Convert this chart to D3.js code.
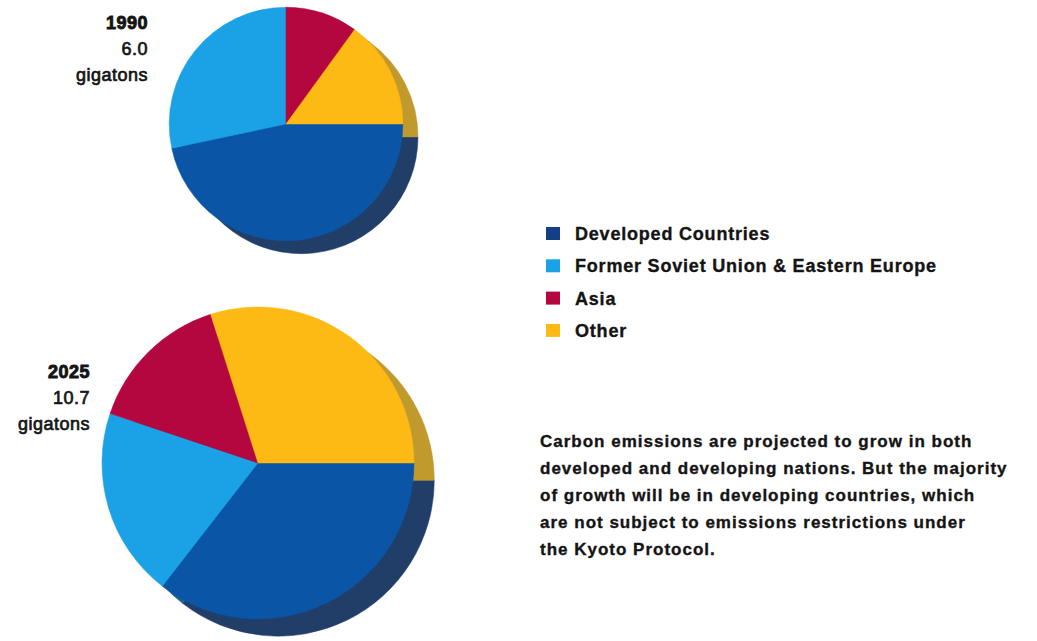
<!DOCTYPE html>
<html>
<head>
<meta charset="utf-8">
<script src="https://cdn.jsdelivr.net/npm/d3@7"></script>
<style>
  body { margin: 0; background: #fff; }
  svg { display: block; }
  text { font-family: "Liberation Sans", Arial, sans-serif; fill: #141414; stroke: #141414; }
</style>
</head>
<body>
<svg id="chart" width="1037" height="641"></svg>
<script>
// categories in drawing order, clockwise from 3 o'clock
const categories = ["Developed Countries", "Former Soviet Union & Eastern Europe", "Asia", "Other"];
const sliceColors = ["#0b55a6", "#1ba1e6", "#b5073f", "#fdb914"];
const shadowColors = ["#213e68", "#17638f", "#6e0a2b", "#c19a2e"];

const years = ["1990", "2025"];
const totals = [6.0, 10.7];
const totalLabels = ["6.0", "10.7"];
const values1990 = [2.8, 1.7, 0.6, 0.9];   // gigatons
const values2025 = [3.8, 2.1, 1.6, 3.2];

const paragraph = [
    "Carbon emissions are projected to grow in both",
    "developed and developing nations. But the majority",
    "of growth will be in developing countries, which",
    "are not subject to emissions restrictions under",
    "the Kyoto Protocol."
];

const svg = d3.select("#chart");

//layout of the two pies
const pies = [
    {year: years[0], total: totals[0], label: totalLabels[0], values: values1990, cx: 286, labelX: 148, labelY: 29},
    {year: years[1], total: totals[1], label: totalLabels[1], values: values2025, cx: 258, labelX: 90, labelY: 378}
];

const yPos = d3.scalePoint().domain(years).range([124, 463]);
const radius = d3.scaleSqrt().domain([0, d3.max(totals)]).range([0, 156]);

const pie = d3.pie()
    .sort(null)
    .startAngle(Math.PI / 2)
    .endAngle(Math.PI / 2 + 2 * Math.PI);

pies.forEach(p => {
    const r = radius(p.total);
    const cy = yPos(p.year);
    const arcs = pie(p.values);
    const arc = d3.arc().innerRadius(0).outerRadius(r);

    const g = svg.append("g").attr("transform", "translate(" + p.cx + "," + cy + ")");

    //3D side, drawn as an offset copy behind the pie
    g.append("g")
        .attr("transform", "translate(" + (r * 0.13) + "," + (r * 0.11) + ")")
        .selectAll("path")
        .data(arcs)
        .join("path")
        .attr("d", arc)
        .attr("fill", (d, i) => shadowColors[i])
        .attr("stroke", (d, i) => shadowColors[i])
        .attr("stroke-width", 0.5);

    //the pie itself
    g.append("g")
        .selectAll("path")
        .data(arcs)
        .join("path")
        .attr("d", arc)
        .attr("fill", (d, i) => sliceColors[i])
        .attr("stroke", (d, i) => sliceColors[i])
        .attr("stroke-width", 0.5);

    //year / total labels
    const lab = svg.append("g").attr("text-anchor", "end").style("font-size", "18px")
        .style("letter-spacing", "0.5px");
    lab.append("text").attr("x", p.labelX).attr("y", p.labelY)
        .style("font-weight", "700").style("stroke-width", 0.9).text(p.year);
    lab.append("text").attr("x", p.labelX).attr("y", p.labelY + 26)
        .style("stroke-width", 0.7).text(p.label);
    lab.append("text").attr("x", p.labelX).attr("y", p.labelY + 52)
        .style("stroke-width", 0.7).text("gigatons");
});

//Legend
const legend = svg.append("g")
    .selectAll("g")
    .data(categories)
    .join("g")
    .attr("transform", (d, i) => "translate(546," + (227 + i * 32.3) + ")");

legend.append("rect")
    .attr("width", 14)
    .attr("height", 13)
    .attr("fill", (d, i) => i === 0 ? "#123f86" : sliceColors[i]);

legend.append("text")
    .attr("x", 29)
    .attr("y", 13)
    .style("font-size", "18px")
    .style("font-weight", "700")
    .style("stroke-width", 0.35)
    .style("letter-spacing", "0.8px")
    .text(d => d);

//Note text
svg.append("g")
    .selectAll("text")
    .data(paragraph)
    .join("text")
    .attr("x", 540)
    .attr("y", (d, i) => 447 + i * 27)
    .style("font-size", "17px")
    .style("font-weight", "700")
    .style("stroke-width", 0.35)
    .style("letter-spacing", "1px")
    .text(d => d);
</script>
</body>
</html>
